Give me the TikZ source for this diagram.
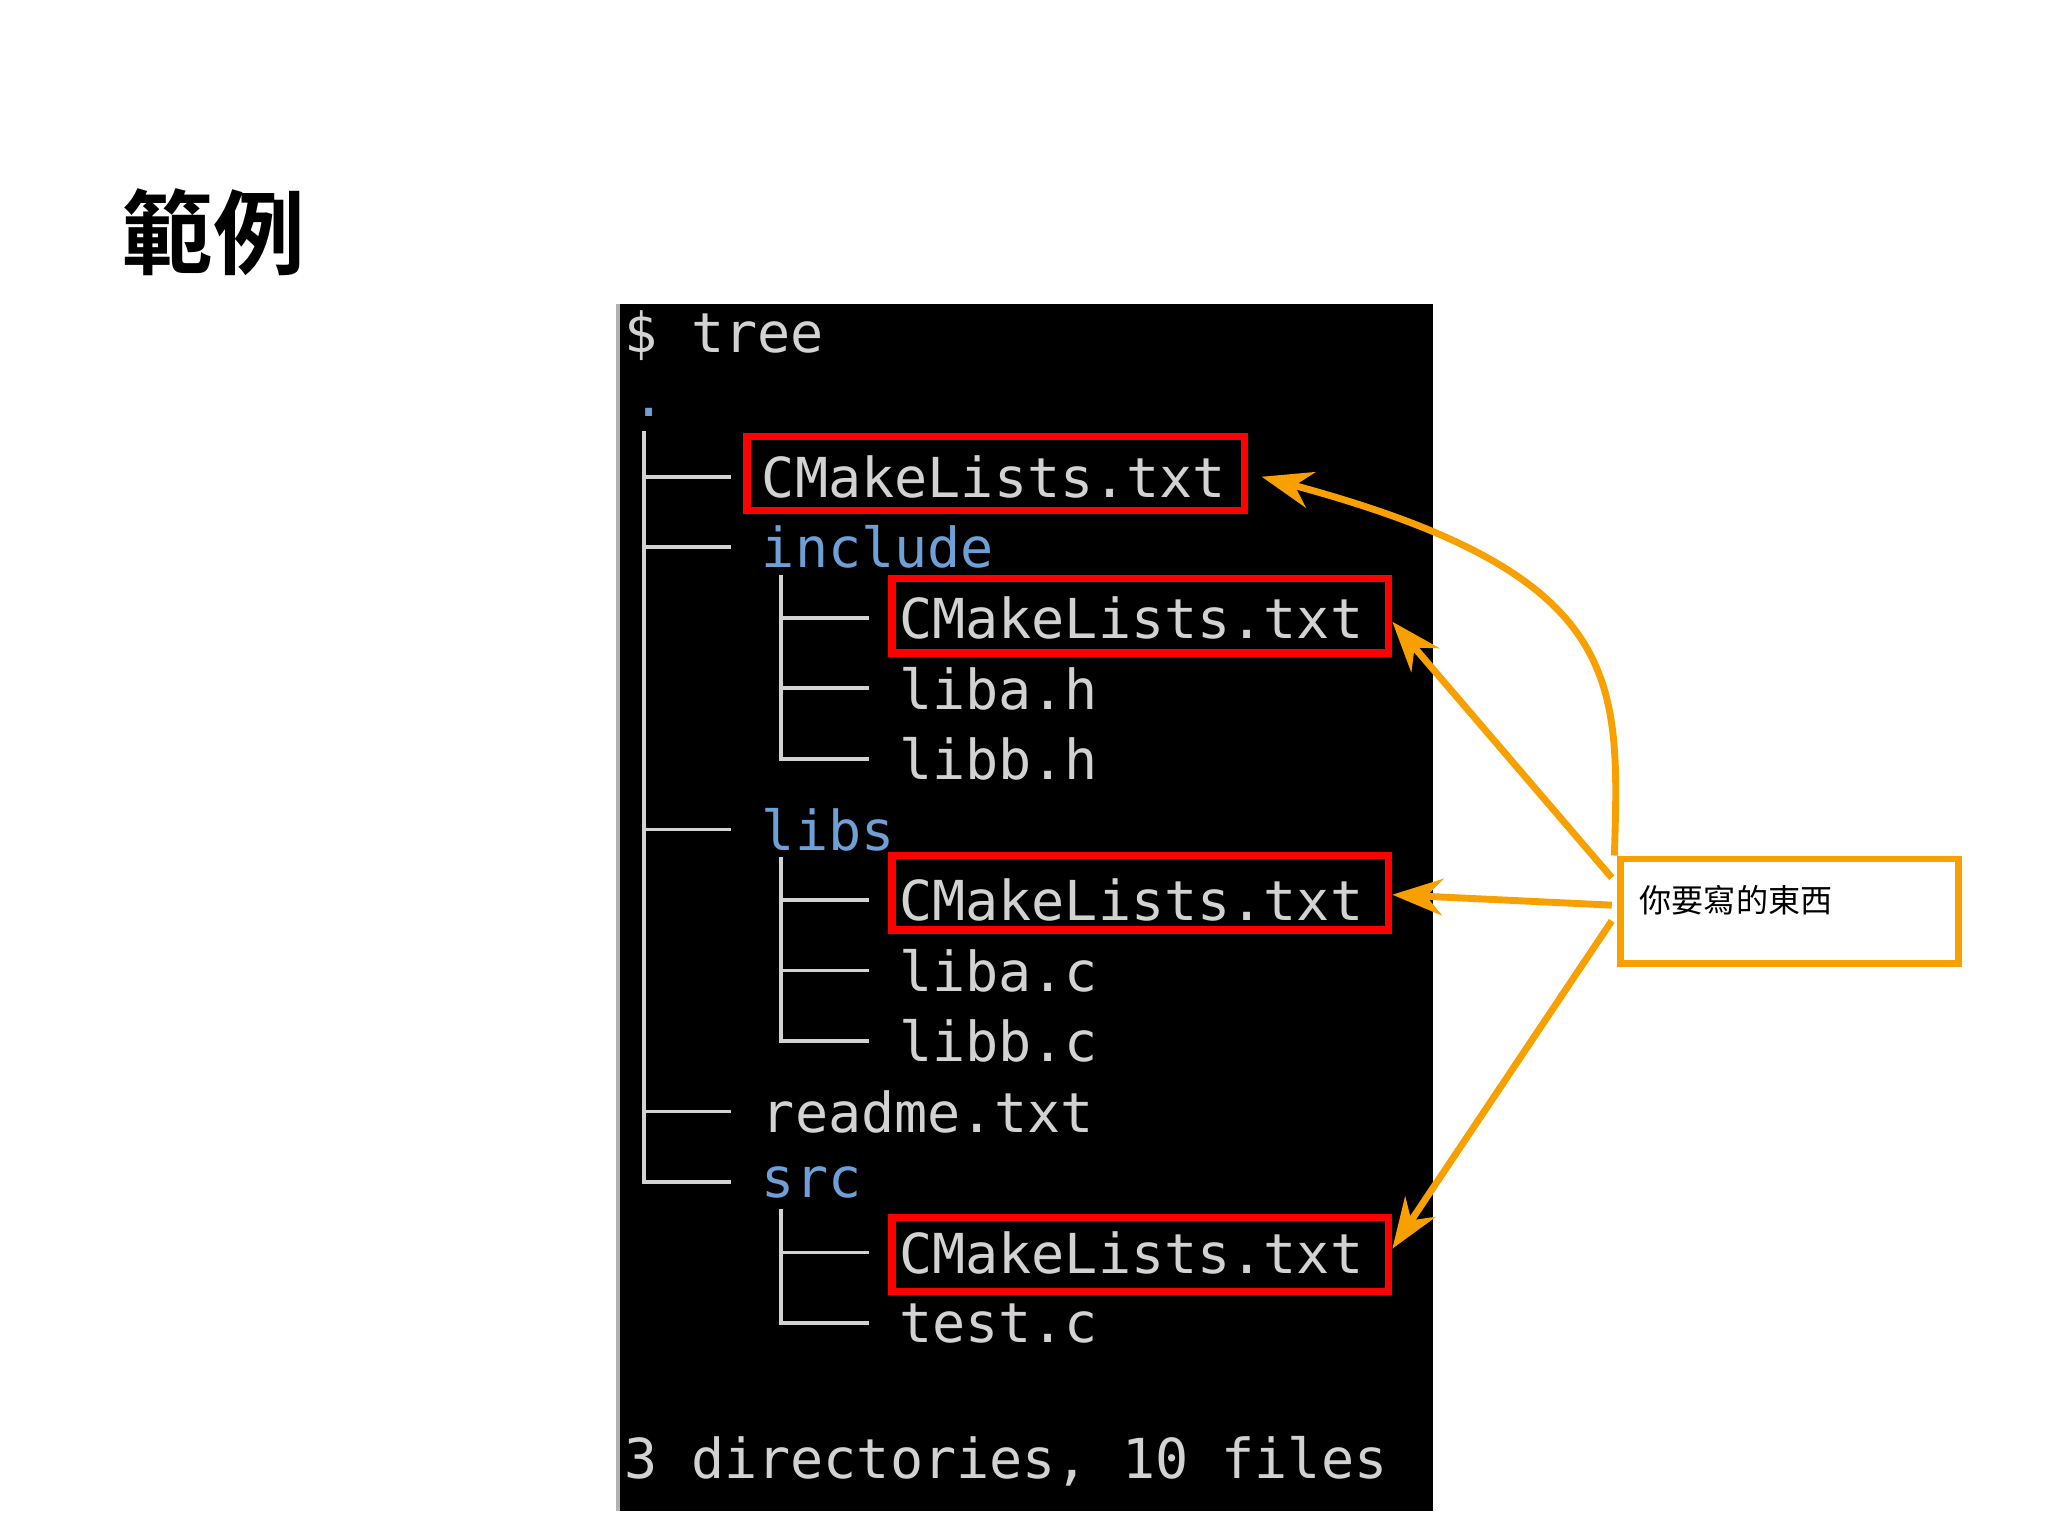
\documentclass[tikz,border=0pt]{standalone}
\usepackage{fontspec}
\newfontfamily\cjkb{Noto Sans CJK TC}[BoldFont={* Bold}]
\newfontfamily\mono{DejaVu Sans Mono}
\usetikzlibrary{arrows.meta}
\definecolor{termgray}{HTML}{D2D2D2}
\definecolor{dirblue}{HTML}{6E9FD6}
\definecolor{orng}{HTML}{F7A000}
\begin{document}
\begin{tikzpicture}[x=0.02cm,y=-0.02cm,
  term/.style={anchor=west,inner sep=0pt,text=termgray,font=\mono\fontsize{24}{24}\selectfont},
  dir/.style={term,text=dirblue},
  redbox/.style={draw=red,line width=4*0.02cm*28.45,minimum height=0pt},
  tl/.style={termgray,line width=1.6pt},
  arr/.style={orng,line width=3pt,-{Stealth[length=22pt,width=16pt]}}]
\useasboundingbox (0,0) rectangle (1568,1176);
\node[anchor=west,inner sep=0pt,font=\cjkb\bfseries\fontsize{40}{40}\selectfont] (title) at (93,178) {範例};
\fill[black] (472,233) rectangle (1097,1157);
\draw[gray!60,line width=2pt] (473,233) -- (473,1157);
\node[term] (cmd) at (478,257) {\$ tree};
\node[term,text=dirblue] (dot) at (484,316) {.};
\node[term] (f1) at (583,365) {CMakeLists.txt};
\node[dir] (inc) at (583,419) {include};
\node[term] (f2) at (688,473) {CMakeLists.txt};
\node[term] (f3) at (688,527) {liba.h};
\node[term] (f4) at (688,581) {libb.h};
\node[dir] (libs) at (583,635) {libs};
\node[term] (f5) at (688,689) {CMakeLists.txt};
\node[term] (f6) at (688,743) {liba.c};
\node[term] (f7) at (688,797) {libb.c};
\node[term] (f8) at (583,851) {readme.txt};
\node[dir] (src) at (583,905) {src};
\node[term] (f9) at (688,959) {CMakeLists.txt};
\node[term] (f10) at (688,1013) {test.c};
\node[term] (sum) at (478,1119) {3 directories, 10 files};
% tree lines
\draw[tl] (493,330) -- (493,905) -- (560,905);
\foreach \y in {365,419,635,851} \draw[tl] (493,\y) -- (560,\y);
\draw[tl] (598,440) -- (598,581) -- (665,581);
\foreach \y in {473,527} \draw[tl] (598,\y) -- (665,\y);
\draw[tl] (598,656) -- (598,797) -- (665,797);
\foreach \y in {689,743} \draw[tl] (598,\y) -- (665,\y);
\draw[tl] (598,926) -- (598,1013) -- (665,1013);
\draw[tl] (598,959) -- (665,959);
% red boxes
\draw[red,line width=3.2pt] (572,334) rectangle (953,391);
\draw[red,line width=3.2pt] (683,443) rectangle (1063,500);
\draw[red,line width=3.2pt] (683,655) rectangle (1063,712);
\draw[red,line width=3.2pt] (683,932) rectangle (1063,989);
\coordinate (t1) at (966,365);
\coordinate (t2) at (1066,476);
\coordinate (t3) at (1066,685);
\coordinate (t4) at (1066,956);
% label
\node[draw=orng,line width=3pt,minimum width=259*0.02cm,minimum height=80*0.02cm,anchor=north west,inner sep=0pt] (lbl) at (1238,655) {};
\node[anchor=west,inner sep=0pt,font=\cjkb\fontsize{14}{14}\selectfont] (lt) at (1255,689) {你要寫的東西};
\draw[arr] (1236,655) .. controls (1240,520) and (1245,440) .. (t1);
\draw[arr] (1234,672) -- (t2);
\draw[arr] (1234,693) -- (t3);
\draw[arr] (1234,705) -- (t4);
\end{tikzpicture}
\end{document}
